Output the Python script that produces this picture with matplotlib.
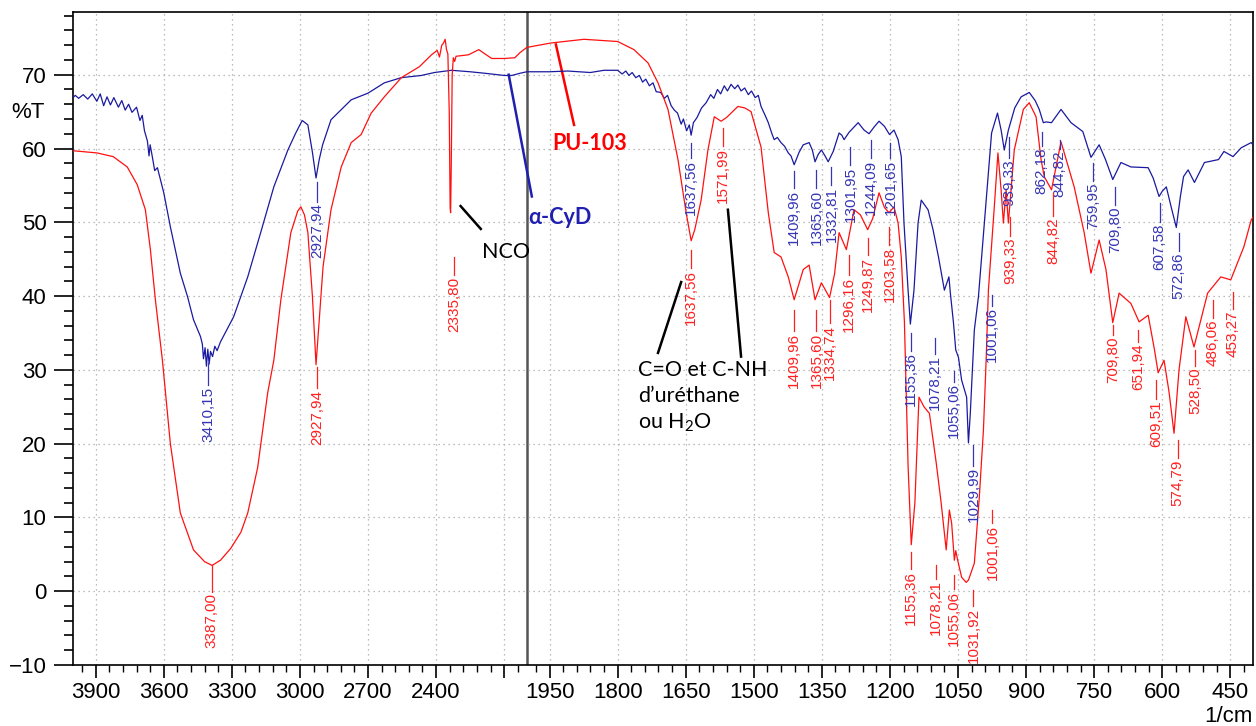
import numpy as np
import matplotlib
matplotlib.use("Agg")
import matplotlib.pyplot as plt
from matplotlib.ticker import FixedLocator

# ---------------- data ----------------
blue_w = [4000, 3990, 3975, 3955, 3935, 3915, 3895, 3880, 3865, 3850, 3835, 3820, 3800, 3785, 3770,
          3755, 3740, 3720, 3705, 3695, 3685, 3672, 3665, 3660, 3650, 3640, 3628, 3600, 3571, 3527,
          3496, 3469, 3438, 3430, 3425, 3418, 3412, 3406, 3400, 3394, 3385, 3375, 3365, 3350, 3292,
          3230, 3173, 3115, 3053, 3020, 2990, 2965, 2945, 2929, 2915, 2900, 2863, 2774, 2700, 2628,
          2553, 2465, 2407, 2332, 2250, 2186, 2100, 2066, 2030, 2000, 1950, 1910, 1860, 1830, 1800,
          1790, 1782, 1775, 1768, 1760, 1752, 1745, 1738, 1730, 1722, 1715, 1705, 1697, 1690, 1682,
          1675, 1668, 1660, 1655, 1648, 1642, 1638, 1633, 1625, 1615, 1605, 1595, 1588, 1580, 1573,
          1565, 1558, 1550, 1542, 1535, 1528, 1520, 1512, 1505, 1497, 1490, 1484, 1475, 1468, 1460,
          1455, 1448, 1440, 1432, 1424, 1418, 1411, 1400, 1391, 1378, 1371, 1365, 1358, 1351, 1343,
          1336, 1325, 1312, 1306, 1301, 1290, 1270, 1257, 1246, 1235, 1224, 1212, 1201, 1191, 1182,
          1175, 1169, 1160, 1155, 1147, 1138, 1131, 1116, 1105, 1093, 1080, 1070, 1067, 1060, 1055,
          1049, 1042, 1031, 1027, 1023, 1014, 1005, 992, 983, 976, 963, 955, 948, 939, 925,
          911, 893, 880, 871, 862, 856, 844, 823, 801, 775, 757, 739, 725, 709, 698,
          691, 669, 631, 620, 607, 600, 591, 580, 569, 560, 553, 543, 529, 507, 476,
          464, 444, 426, 404, 400]
blue_t = [66.9, 67.2, 66.8, 67.3, 66.7, 67.4, 66.4, 67.4, 65.8, 67.0, 65.9, 66.9, 65.6, 66.5, 65.2,
          66.0, 64.9, 65.6, 63.8, 64.5, 62.4, 61.0, 59.0, 60.5, 58.8, 57.0, 57.4, 54.0, 49.4, 43.1,
          40.0, 36.8, 34.5, 33.5, 31.5, 33.0, 30.5, 32.8, 30.8, 32.5, 31.8, 33.2, 32.6, 33.8, 37.2,
          42.6, 48.6, 54.8, 59.8, 62.0, 63.8, 63.2, 59.5, 56.0, 58.5, 60.5, 63.9, 66.6, 67.5, 68.9,
          69.6, 69.9, 70.3, 70.6, 70.4, 70.2, 69.9, 69.9, 70.2, 70.4, 70.4, 70.5, 70.3, 70.6, 70.6,
          70.1, 70.5, 69.9, 70.3, 69.6, 69.9, 69.0, 69.4, 68.5, 68.9, 67.7, 67.6, 66.8, 67.2, 65.8,
          65.2, 64.8, 63.3, 64.0, 62.4, 63.2, 61.8, 63.5, 64.2, 65.5, 66.2, 67.3, 66.8, 68.0, 67.4,
          68.5, 67.8, 68.7, 68.1, 68.6, 67.8, 68.2, 67.3, 67.8, 66.9, 67.2, 65.7, 64.5, 63.5, 62.0,
          61.2, 61.5, 60.8, 60.3, 59.4, 59.0, 57.8, 59.5, 60.5, 60.8, 59.8, 58.2, 59.2, 59.8, 59.0,
          58.2, 59.6, 62.1, 61.8, 61.2, 62.2, 63.5, 62.5, 62.0, 62.9, 63.7, 63.0, 61.9, 62.5, 61.2,
          58.9, 49.9, 40.8, 36.2, 40.8, 49.9, 53.0, 51.7, 49.0, 45.3, 40.8, 42.6, 40.5, 36.4, 32.7,
          31.7, 28.6, 26.3, 20.1, 24.0, 35.4, 39.9, 49.9, 56.7, 62.1, 64.8, 62.5, 59.8, 62.5, 65.5,
          67.0, 67.6, 66.5, 65.3, 63.5, 63.6, 63.5, 65.3, 63.5, 62.3, 58.8, 60.5, 58.5, 55.8, 57.2,
          58.1, 57.5, 57.4, 56.0, 53.5, 54.2, 54.8, 52.0, 49.3, 53.5, 56.2, 57.1, 55.4, 58.1, 58.5,
          59.6, 58.9, 60.1, 60.8, 60.5]

red_w = [4000, 3894, 3823, 3761, 3717, 3681, 3659, 3637, 3606, 3571, 3527, 3469, 3420, 3387, 3350,
         3305, 3260, 3230, 3186, 3142, 3115, 3084, 3040, 3010, 2996, 2980, 2965, 2945, 2929, 2912,
         2898, 2863, 2818, 2774, 2730, 2686, 2628, 2553, 2473, 2420, 2395, 2385, 2375, 2367, 2360,
         2354, 2348, 2342, 2338, 2336, 2333, 2329, 2324, 2318, 2312, 2257, 2212, 2155, 2100, 2053,
         2030, 2000, 1947, 1874, 1800, 1764, 1733, 1711, 1689, 1667, 1649, 1638, 1630, 1616, 1601,
         1587, 1572, 1560, 1550, 1535, 1520, 1506, 1484, 1468, 1455, 1440, 1424, 1411, 1391, 1378,
         1365, 1351, 1333, 1322, 1312, 1296, 1279, 1265, 1249, 1238, 1224, 1212, 1202, 1191, 1182,
         1175, 1168, 1160, 1153, 1145, 1136, 1125, 1113, 1098, 1087, 1076, 1069, 1064, 1058, 1055,
         1050, 1042, 1032, 1027, 1014, 1003, 994, 988, 983, 970, 962, 955, 950, 944, 939,
         926, 906, 893, 878, 867, 860, 844, 823, 794, 772, 757, 739, 724, 709, 695,
         669, 651, 631, 617, 609, 596, 585, 574, 563, 548, 530, 500, 471, 449, 420,
         404, 400]
red_t = [59.7, 59.4, 58.9, 57.5, 55.1, 51.7, 46.3, 39.5, 31.3, 20.0, 10.6, 5.6, 4.0, 3.5, 4.2,
         5.8, 8.0, 10.6, 16.8, 26.9, 31.3, 39.5, 48.6, 51.5, 52.1, 51.0, 48.6, 40.0, 30.7, 38.0,
         44.0, 51.7, 57.5, 60.8, 61.9, 64.8, 67.0, 69.6, 71.1, 72.7, 73.3, 72.4, 74.0, 74.3, 74.8,
         73.4, 72.8, 65.0, 52.0, 51.3, 58.0, 70.0, 72.3, 71.8, 72.5, 72.7, 73.4, 72.2, 72.2, 72.3,
         73.0, 73.7, 74.3, 74.8, 74.5, 73.4, 71.6, 68.9, 65.3, 58.5, 51.3, 47.5, 49.0, 53.0, 59.8,
         64.3, 63.7, 64.2, 64.8, 65.7, 65.5, 65.0, 60.2, 51.3, 45.9, 45.3, 42.6, 39.5, 43.6, 44.2,
         39.5, 41.8, 39.8, 43.0, 48.6, 46.3, 51.7, 51.0, 49.0, 50.5, 54.0, 52.0, 51.3, 52.1, 49.9,
         45.3, 36.4, 17.0, 6.3, 12.0, 26.3, 25.0, 24.1, 17.4, 11.9, 5.6, 11.0, 9.2, 4.2, 5.5,
         4.0, 1.9, 1.2, 1.5, 3.8, 12.8, 21.8, 31.3, 40.8, 52.1, 59.4, 54.4, 49.9, 54.4, 49.9,
         59.8, 65.3, 66.2, 64.3, 58.5, 56.2, 54.4, 60.9, 54.8, 48.6, 43.1, 47.6, 43.6, 36.4, 40.4,
         39.0, 36.5, 37.4, 32.7, 29.6, 31.3, 27.0, 21.4, 30.0, 37.2, 33.1, 40.4, 42.6, 42.2, 46.7,
         50.3, 50.7]

# peak labels (text) and their layout
blue_labels = ["3410,15", "2927,94", "1637,56", "1409,96", "1365,60", "1332,81", "1301,95",
               "1244,09", "1201,65", "1155,36", "1078,21", "1055,06", "1029,99", "1001,06",
               "939,33", "862,18", "844,82", "759,95", "709,80", "607,58", "572,86"]
blue_lab_x = [3403, 2925, 1638, 1411, 1362, 1329, 1287, 1241, 1199, 1153, 1100, 1058, 1016, 976,
              937, 866, 826, 753, 703, 606, 564]
blue_lab_top = [27.7, 52.6, 58.5, 54.4, 54.4, 54.8, 57.5, 58.5, 58.5, 32.4, 32.0, 28.2, 16.8, 38.5,
                58.5, 60.2, 59.8, 55.4, 52.1, 49.9, 45.9]
blue_line_top = [30.9, 55.4, 60.8, 56.9, 57.1, 57.5, 60.2, 61.2, 60.8, 35.0, 34.3, 29.8, 19.8, 40.2,
                 61.5, 62.3, 61.2, 58.1, 54.8, 52.6, 48.6]

red_labels = ["3387,00", "2927,94", "2335,80", "1637,56", "1571,99", "1409,96", "1365,60",
              "1334,74", "1296,16", "1249,87", "1203,58", "1155,36", "1078,21", "1055,06",
              "1031,92", "1001,06", "939,33", "844,82", "709,80", "651,94", "609,51", "574,79",
              "528,50", "486,06", "453,27"]
red_lab_x = [3389, 2925, 2319, 1638, 1568, 1411, 1362, 1332, 1290, 1248, 1201, 1153, 1098, 1058,
             1016, 974, 935, 840, 708, 653, 613, 566, 528, 488, 444]
red_lab_top = [-0.3, 27.3, 42.6, 43.6, 60.1, 35.0, 35.0, 36.1, 42.6, 45.3, 46.7, 2.8, 1.5, 0.1,
               -2.2, 9.0, 48.0, 50.7, 34.5, 33.6, 25.9, 17.8, 30.3, 36.8, 38.1]
red_line_top = [3.5, 30.4, 45.3, 46.3, 62.8, 38.1, 38.1, 39.5, 45.6, 47.9, 49.3, 5.3, 3.5, 2.2,
                0.1, 11.0, 50.7, 54.0, 36.1, 35.4, 28.6, 20.5, 32.7, 39.5, 40.6]

xticks_major = [3900, 3600, 3300, 3000, 2700, 2400, 2100, 1950, 1800, 1650, 1500, 1350, 1200,
                1050, 900, 750, 600, 450]
xtick_labels = ["3900", "3600", "3300", "3000", "2700", "2400", "", "1950", "1800", "1650",
                "1500", "1350", "1200", "1050", "900", "750", "600", "450"]
yticks_major = [-10, 0, 10, 20, 30, 40, 50, 60, 70]

BLUE = "#1a1aa0"
BLUE_TXT = "#3535b5"
RED = "#ff1010"
RED_TXT = "#ff2020"

# ---------------- figure ----------------
W, H = 1256, 726
fig = plt.figure(figsize=(W / 100, H / 100), dpi=100)
ax = fig.add_axes([73 / W, 61 / H, 1180 / W, 653 / H])


def fwd(w):
    w = np.asarray(w, dtype=float)
    return np.where(w >= 2000, w, 2 * w - 2000)


def inv(u):
    u = np.asarray(u, dtype=float)
    return np.where(u >= 2000, u, (u + 2000) / 2)


ax.set_xscale("function", functions=(fwd, inv))
ax.set_xlim(4000, 400)
ax.set_ylim(-10, 78.5)

ax.xaxis.set_major_locator(FixedLocator(xticks_major))
ax.set_xticklabels(xtick_labels)
minor_x = list(np.arange(3960, 2000, -60)) + list(np.arange(1980, 400, -30))
ax.xaxis.set_minor_locator(FixedLocator(minor_x))
ax.set_yticks(yticks_major)
ax.yaxis.set_minor_locator(FixedLocator(np.arange(-10, 79, 2)))

tick_font = dict(family="Liberation Sans", size=16)
for lab in ax.get_xticklabels() + ax.get_yticklabels():
    lab.set_fontfamily("Liberation Sans")
    lab.set_fontsize(16)
ax.tick_params(axis="y", which="major", direction="out", length=14, width=1.2, pad=5)
ax.tick_params(axis="y", which="minor", direction="out", length=6.5, width=1.2)
ax.tick_params(axis="x", which="major", direction="out", length=9.5, width=1.2, pad=3)
ax.tick_params(axis="x", which="minor", direction="out", length=5, width=1.0)

ax.grid(True, which="major", color="#a8a8a8", linestyle=(0, (1, 3)), linewidth=0.9)
for s in ax.spines.values():
    s.set_linewidth(1.2)
    s.set_color("black")

ax.axvline(2000, color="#555555", lw=1.8, zorder=1)

ax.plot(blue_w, blue_t, color=BLUE, lw=0.9, zorder=3)
ax.plot(red_w, red_t, color=RED, lw=0.9, zorder=3)

lab_font = dict(family="Liberation Sans", size=11)
for txt, x, top, ltop in zip(blue_labels, blue_lab_x, blue_lab_top, blue_line_top):
    ax.text(x, top, txt, rotation=90, ha="center", va="top", color=BLUE_TXT, fontdict=lab_font, zorder=4)
    ax.plot([x, x], [top + 0.2, ltop], color=BLUE_TXT, lw=0.9, zorder=4)
for txt, x, top, ltop in zip(red_labels, red_lab_x, red_lab_top, red_line_top):
    ax.text(x, top, txt, rotation=90, ha="center", va="top", color=RED_TXT, fontdict=lab_font, zorder=4)
    ax.plot([x, x], [top + 0.2, ltop], color=RED_TXT, lw=0.9, zorder=4)

ann_fam = ["Lato", "DejaVu Sans"]
# NCO
ax.plot([2292, 2203], [52.2, 49.1], color="black", lw=1.8)
ax.text(2199, 46.0, "NCO", family=ann_fam, fontsize=15.5, color="black", ha="left", va="center")
# alpha-CyD
ax.plot([2080, 1989], [70.0, 53.5], color="#2020b0", lw=1.8)
ax.text(1996, 50.6, "α-CyD", family=ann_fam, fontsize=15.5, fontweight="bold", color="#2020b0",
        ha="left", va="center")
# PU-103
ax.plot([1936, 1896], [74.1, 63.2], color="#ff0000", lw=1.8)
ax.text(1945, 60.7, "PU-103", family=ann_fam, fontsize=15.5, fontweight="bold", color="#ff0000",
        ha="left", va="center")
# C=O
ax.plot([1711, 1660], [32.3, 41.9], color="black", lw=1.8)
ax.plot([1557, 1528], [51.7, 31.8], color="black", lw=1.8)
ax.text(1755, 31.3, "C=O et C-NH\nd\u2019uréthane\nou H$_\\mathregular{2}$O", family=ann_fam,
        fontsize=15.5, color="black", ha="left", va="top", linespacing=1.35)

fig.text(11 / W, 1 - 113 / H, "%T", family="Liberation Sans", fontsize=16, ha="left", va="center")
fig.text(1253 / W, 1 - 716 / H, "1/cm", family="Liberation Sans", fontsize=16, ha="right", va="center")

fig.savefig("out.png", dpi=100)
